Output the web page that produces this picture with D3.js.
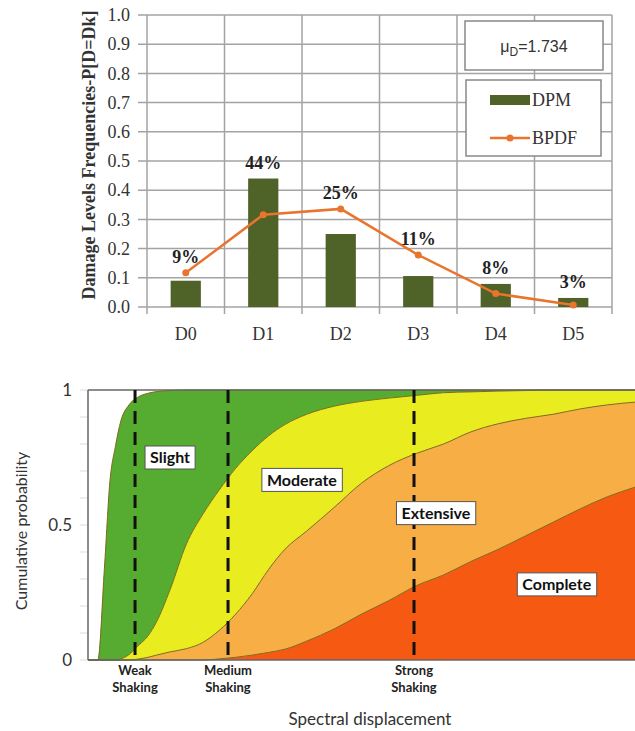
<!DOCTYPE html>
<html lang="en">
<head>
<meta charset="UTF-8">
<title>damage levels</title>
<script src="https://d3js.org/d3.v7.min.js"></script>
<style>
  body { margin: 0; background: #fff; }
  svg { display: block; }
</style>
</head>
<body>
<div class="canvas"></div>
<script>
  // ---- top chart data ----
  const levels = ['D0', 'D1', 'D2', 'D3', 'D4', 'D5'];
  const dpm = [0.09, 0.44, 0.25, 0.106, 0.079, 0.031];
  const bpdf = [0.117, 0.316, 0.336, 0.178, 0.046, 0.007];
  const pctLabels = ['9%', '44%', '25%', '11%', '8%', '3%'];
  const muD = '1.734';

  // ---- bottom chart data (spectral displacement, arbitrary units 0-100) ----
  const sd = [0, 1.8, 3, 4, 5, 6, 7.5, 9, 11, 12.5, 15, 18, 21, 24, 27, 30, 33, 36, 40, 45, 50, 55, 60, 65, 70, 75, 80, 85, 90, 95, 100];
  const pSlight = [0, 0, 0.34, 0.66, 0.79, 0.885, 0.945, 0.972, 0.988, 0.994, 0.998, 1, 1, 1, 1, 1, 1, 1, 1, 1, 1, 1, 1, 1, 1, 1, 1, 1, 1, 1, 1];
  const pModerate = [0, 0, 0, 0, 0, 0.004, 0.02, 0.05, 0.09, 0.14, 0.26, 0.43, 0.54, 0.63, 0.71, 0.775, 0.83, 0.872, 0.91, 0.94, 0.958, 0.97, 0.98, 0.99, 0.993, 0.996, 0.998, 1, 1, 1, 1];
  const pExtensive = [0, 0, 0, 0, 0, 0, 0, 0.003, 0.01, 0.018, 0.03, 0.042, 0.065, 0.11, 0.17, 0.245, 0.335, 0.41, 0.478, 0.565, 0.655, 0.72, 0.765, 0.8, 0.845, 0.875, 0.895, 0.91, 0.93, 0.945, 0.955];
  const pComplete = [0, 0, 0, 0, 0, 0, 0, 0, 0, 0, 0, 0, 0, 0.004, 0.01, 0.018, 0.028, 0.04, 0.07, 0.115, 0.17, 0.22, 0.275, 0.315, 0.365, 0.41, 0.46, 0.51, 0.56, 0.605, 0.64];
  const shaking = [['Weak', 8.6], ['Medium', 25.6], ['Strong', 59.6]];
  const stateLabels = [['Slight', 15.0, 0.75], ['Moderate', 39.1, 0.667], ['Extensive', 63.6, 0.544], ['Complete', 85.7, 0.28]];

  const width = 635, height = 731;
  const svg = d3.select('.canvas').append('svg')
    .attr('width', width).attr('height', height);

  /* ---------------- top chart ---------------- */
  const serif = '"Liberation Serif", "Times New Roman", serif';
  const gridColor = '#a3a3a3';
  const x = d3.scaleBand().domain(levels).range([147, 612]);
  const y = d3.scaleLinear().domain([0, 1]).range([307, 15]);
  const barW = x.bandwidth() * 0.39;

  const topG = svg.append('g');

  // horizontal grid
  topG.selectAll('line.hgrid').data(y.ticks(10)).enter()
    .append('line')
    .attr('x1', 138).attr('x2', 612)
    .attr('y1', d => y(d)).attr('y2', d => y(d))
    .attr('stroke', gridColor).attr('stroke-width', 1.5);

  // vertical grid at band edges
  const edges = levels.map(c => x(c)).concat([x.range()[1]]);
  topG.selectAll('line.vgrid').data(edges).enter()
    .append('line')
    .attr('x1', d => d).attr('x2', d => d)
    .attr('y1', y(1)).attr('y2', y(0) + 7)
    .attr('stroke', gridColor).attr('stroke-width', 1.5);

  const yAxis = d3.axisLeft(y).ticks(10).tickFormat(d3.format('.1f')).tickSize(0).tickPadding(17);
  topG.append('g').attr('transform', 'translate(147,0)').call(yAxis)
    .call(g => g.select('.domain').remove())
    .selectAll('text')
    .attr('font-family', serif).attr('font-size', 18).attr('fill', '#333');

  const xAxis = d3.axisBottom(x).tickSize(0).tickPadding(20);
  topG.append('g').attr('transform', `translate(0,${y(0)})`).call(xAxis)
    .call(g => g.select('.domain').remove())
    .selectAll('text')
    .attr('font-family', serif).attr('font-size', 18).attr('fill', '#333');

  topG.selectAll('rect.bar').data(dpm).enter()
    .append('rect')
    .attr('x', (d, i) => x(levels[i]) + (x.bandwidth() - barW) / 2)
    .attr('y', d => y(d))
    .attr('width', barW)
    .attr('height', d => y(0) - y(d))
    .attr('fill', '#4f6228');

  const line = d3.line()
    .x((d, i) => x(levels[i]) + x.bandwidth() / 2)
    .y(d => y(d));

  topG.append('path')
    .attr('d', line(bpdf))
    .attr('fill', 'none')
    .attr('stroke', '#e8742d')
    .attr('stroke-width', 2.5);

  topG.selectAll('circle.pt').data(bpdf).enter()
    .append('circle')
    .attr('cx', (d, i) => x(levels[i]) + x.bandwidth() / 2)
    .attr('cy', d => y(d))
    .attr('r', 3.5)
    .attr('fill', '#e8742d');

  topG.selectAll('text.pct').data(pctLabels).enter()
    .append('text')
    .attr('x', (d, i) => x(levels[i]) + x.bandwidth() / 2)
    .attr('y', (d, i) => y(Math.max(dpm[i], bpdf[i])) - 10)
    .attr('text-anchor', 'middle')
    .attr('font-family', serif).attr('font-weight', 'bold').attr('font-size', 18)
    .attr('fill', '#222')
    .text(d => d);

  topG.append('text')
    .attr('transform', 'translate(95,155) rotate(-90)')
    .attr('text-anchor', 'middle')
    .attr('font-family', serif).attr('font-weight', 'bold').attr('font-size', 18)
    .attr('fill', '#333')
    .text('Damage Levels  Frequencies-P[D=Dk]');

  // mu box
  topG.append('rect').attr('x', 465).attr('y', 21).attr('width', 138).attr('height', 49)
    .attr('fill', '#fff').attr('stroke', '#888').attr('stroke-width', 1.5);
  const mu = topG.append('text').attr('x', 534).attr('y', 52).attr('text-anchor', 'middle')
    .attr('font-family', '"Liberation Sans", Arial, sans-serif').attr('font-size', 16).attr('fill', '#333');
  mu.append('tspan').text('μ');
  mu.append('tspan').attr('font-size', 12).attr('dy', 4).text('D');
  mu.append('tspan').attr('dy', -4).text('=' + muD);

  // legend box
  topG.append('rect').attr('x', 466).attr('y', 80).attr('width', 135).attr('height', 76)
    .attr('fill', '#fff').attr('stroke', '#888').attr('stroke-width', 1.5);
  topG.append('rect').attr('x', 490).attr('y', 95).attr('width', 40).attr('height', 10).attr('fill', '#4f6228');
  topG.append('text').attr('x', 532).attr('y', 106)
    .attr('font-family', serif).attr('font-size', 18).attr('fill', '#333').text('DPM');
  topG.append('line').attr('x1', 490).attr('x2', 530).attr('y1', 138).attr('y2', 138)
    .attr('stroke', '#e8742d').attr('stroke-width', 2.5);
  topG.append('circle').attr('cx', 510).attr('cy', 138).attr('r', 3.5).attr('fill', '#e8742d');
  topG.append('text').attr('x', 532).attr('y', 144)
    .attr('font-family', serif).attr('font-size', 18).attr('fill', '#333').text('BPDF');

  /* ---------------- bottom chart ---------------- */
  const sans = 'Lato, "Open Sans", "Liberation Sans", sans-serif';
  const xs = d3.scaleLinear().domain([0, 100]).range([88, 635]);
  const ys = d3.scaleLinear().domain([0, 1]).range([660, 390]);
  const bot = svg.append('g');

  const rows = sd.map((d, i) => ({ sd: d, s: pSlight[i], m: pModerate[i], e: pExtensive[i], c: pComplete[i] }));
  const bands = [
    ['s', 'm', '#56ac30'],
    ['m', 'e', '#e9ec1e'],
    ['e', 'c', '#f6ae45'],
    ['c', null, '#f65a12']
  ];
  bands.forEach(([hi, lo, col]) => {
    const area = d3.area()
      .curve(d3.curveMonotoneX)
      .x(d => xs(d.sd))
      .y1(d => ys(d[hi]))
      .y0(d => lo ? ys(d[lo]) : ys(0));
    bot.append('path').attr('d', area(rows)).attr('fill', col);
  });
  ['s', 'm', 'e', 'c'].forEach(k => {
    const ln = d3.line().curve(d3.curveMonotoneX).x(d => xs(d.sd)).y(d => ys(d[k]));
    bot.append('path').attr('d', ln(rows)).attr('fill', 'none')
      .attr('stroke', '#7d6b1c').attr('stroke-width', 1);
  });

  // faint minor ticks
  bot.selectAll('line.mt').data(ys.ticks(10)).enter()
    .append('line')
    .attr('x1', 80).attr('x2', 88)
    .attr('y1', d => ys(d)).attr('y2', d => ys(d))
    .attr('stroke', '#ddd');

  // frame
  bot.append('line').attr('x1', 88).attr('x2', 635).attr('y1', ys(1)).attr('y2', ys(1))
    .attr('stroke', '#666').attr('stroke-width', 1.5);
  bot.append('line').attr('x1', 88).attr('x2', 88).attr('y1', ys(1)).attr('y2', ys(0))
    .attr('stroke', '#666').attr('stroke-width', 1.5);
  bot.append('line').attr('x1', 88).attr('x2', 635).attr('y1', ys(0)).attr('y2', ys(0))
    .attr('stroke', '#666').attr('stroke-width', 1.5);

  const ysAxis = d3.axisLeft(ys).tickValues([0, 0.5, 1]).tickFormat(d3.format('~g')).tickSize(0).tickPadding(16);
  bot.append('g').attr('transform', 'translate(88,0)').call(ysAxis)
    .call(g => g.select('.domain').remove())
    .selectAll('text')
    .attr('font-family', sans).attr('font-size', 17).attr('fill', '#333');

  // shaking lines
  bot.selectAll('line.shake').data(shaking).enter()
    .append('line')
    .attr('x1', d => xs(d[1])).attr('x2', d => xs(d[1]))
    .attr('y1', ys(1)).attr('y2', ys(0))
    .attr('stroke', '#111').attr('stroke-width', 3).attr('stroke-dasharray', '13,8');

  const shk = bot.selectAll('text.shake').data(shaking).enter()
    .append('text')
    .attr('text-anchor', 'middle')
    .attr('font-family', sans).attr('font-weight', 'bold').attr('font-size', 13).attr('fill', '#222');
  shk.append('tspan').attr('x', d => xs(d[1])).attr('y', 675).text(d => d[0]);
  shk.append('tspan').attr('x', d => xs(d[1])).attr('y', 692).text('Shaking');

  // state labels
  stateLabels.forEach(([txt, sx, sp]) => {
    const g = bot.append('g').attr('transform', `translate(${xs(sx)},${ys(sp)})`);
    const t = g.append('text').attr('text-anchor', 'middle').attr('dy', '0.35em')
      .attr('font-family', sans).attr('font-weight', 'bold').attr('font-size', 16).attr('fill', '#111')
      .text(txt);
    const bb = t.node().getBBox();
    g.insert('rect', 'text')
      .attr('x', bb.x - 5).attr('y', -11.5).attr('width', bb.width + 10).attr('height', 23)
      .attr('fill', '#fff').attr('stroke', '#555').attr('stroke-width', 1);
  });

  bot.append('text')
    .attr('transform', `translate(27,531) rotate(-90)`)
    .attr('text-anchor', 'middle')
    .attr('font-family', sans).attr('font-size', 16).attr('fill', '#333')
    .text('Cumulative probability');

  bot.append('text')
    .attr('x', 370).attr('y', 725)
    .attr('text-anchor', 'middle')
    .attr('font-family', sans).attr('font-size', 17).attr('fill', '#333')
    .text('Spectral displacement');
</script>
</body>
</html>
